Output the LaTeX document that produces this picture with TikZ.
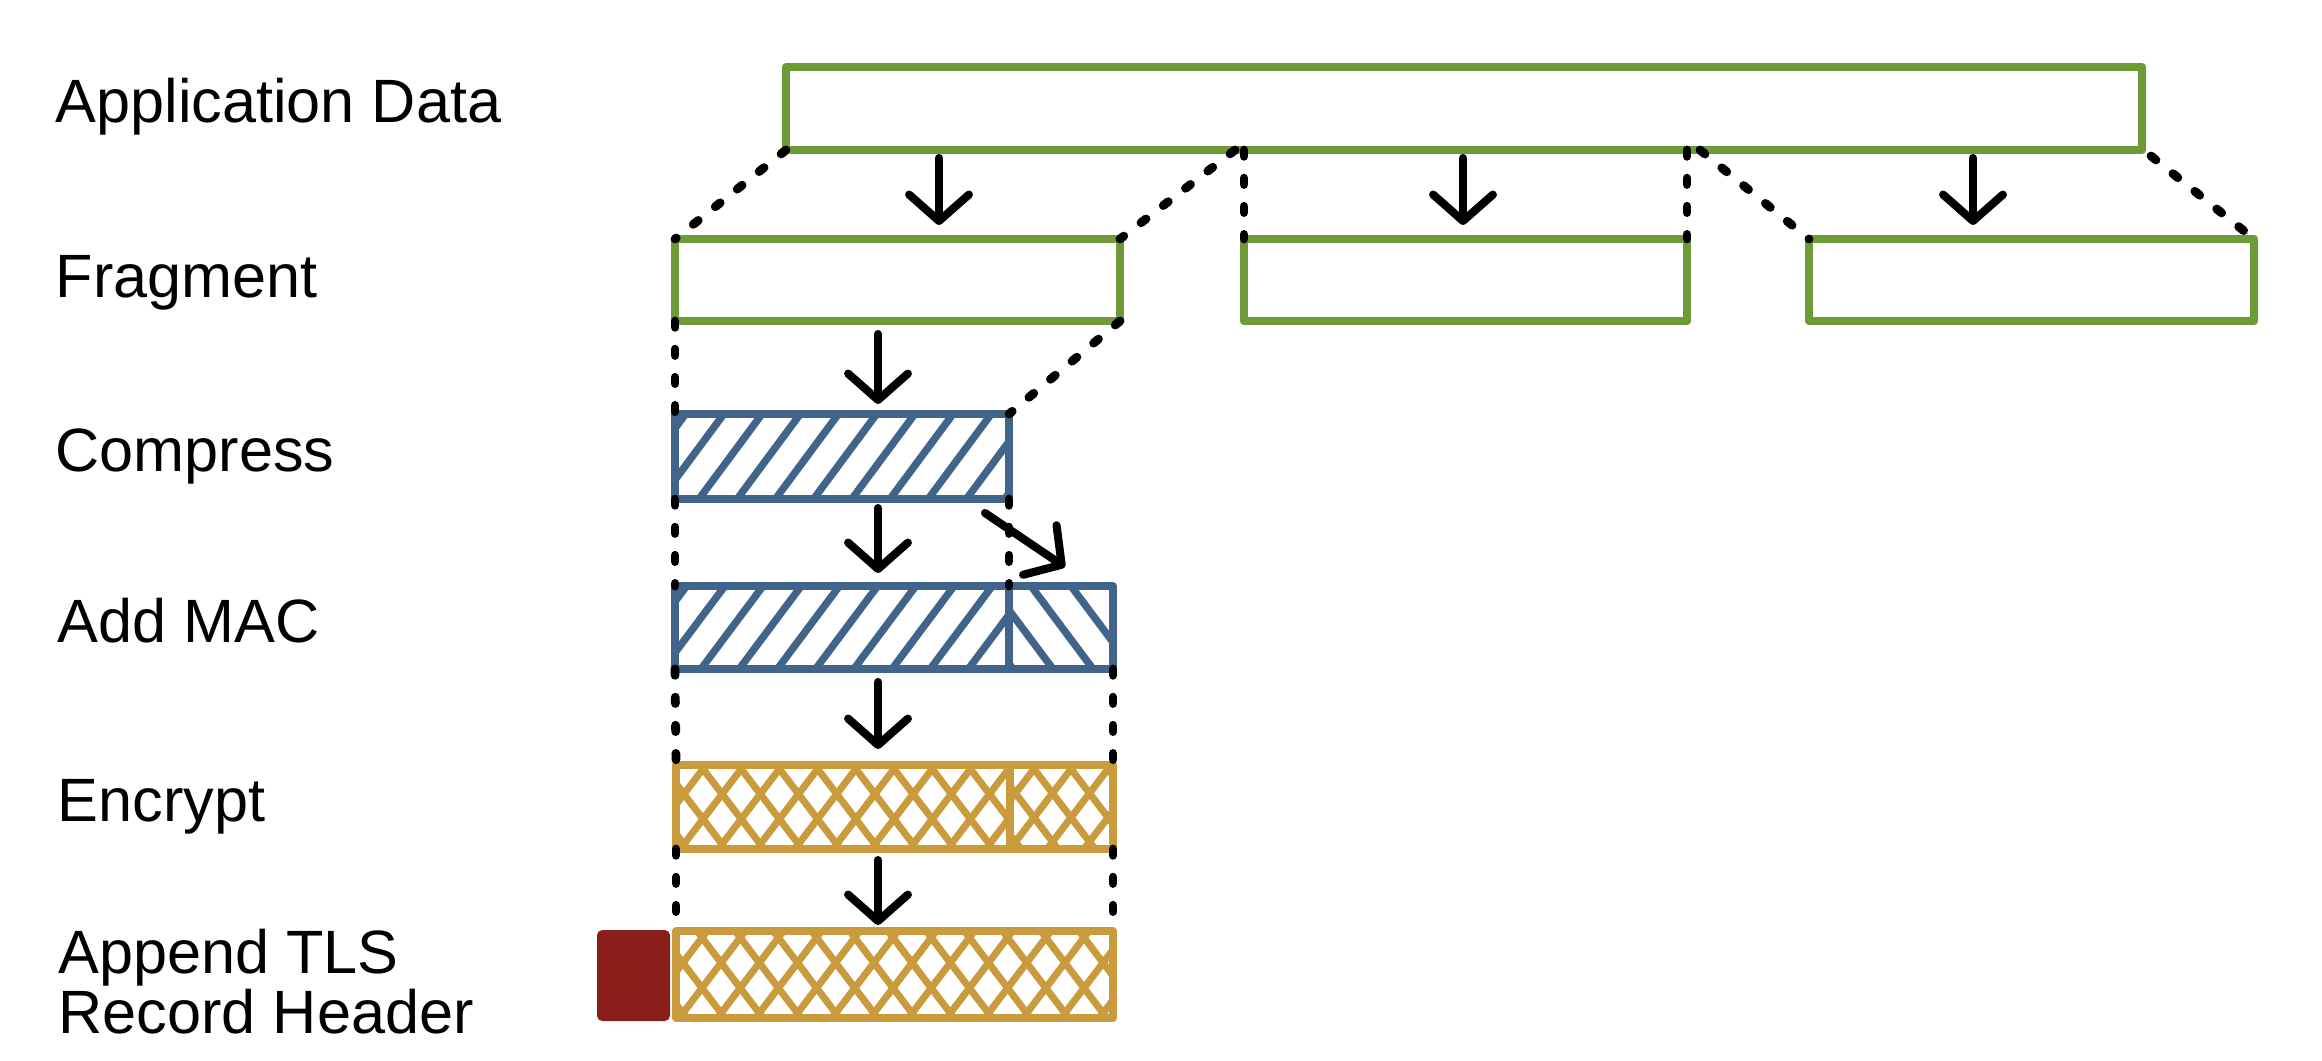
\documentclass[tikz,border=0pt]{standalone}
\usepackage{fontspec}
\setmainfont{Liberation Sans}
\usetikzlibrary{arrows.meta}
\definecolor{grn}{HTML}{6F9A38}
\definecolor{blu}{HTML}{41648A}
\definecolor{gld}{HTML}{C99B3D}
\definecolor{hdr}{HTML}{8A1F1A}
\tikzset{
  box/.style={inner sep=0pt, outer sep=0pt, line join=round},
  gbox/.style={box, draw=grn, line width=2.5pt},
  bbox/.style={box, draw=blu, line width=2.2pt},
  ybox/.style={box, draw=gld, line width=2.3pt},
  hbox/.style={box, fill=hdr, rounded corners=1.5pt},
  bline/.style={draw=blu, line width=2.1pt},
  yline/.style={draw=gld, line width=2pt},
  arr/.style={draw=black, line width=2.3pt, line cap=round, -{Straight Barb[length=7.5pt,width=17pt,round]}},
  dots/.style={draw=black, line width=2.5pt, line cap=round, dash pattern=on 1.8pt off 6.2pt},
  lbl/.style={anchor=base west, inner sep=0pt, font=\fontsize{17.4pt}{16.8pt}\selectfont, align=left},
}
% box node from corners (x1,y1) to (x2,y2), y grows downward
\newcommand\bx[6]{\node[#1, minimum width={(#5-#3)*0.01cm}, minimum height={(#6-#4)*0.01cm}] (#2) at ({(#3+#5)/2},{(#4+#6)/2}) {};}
% clipped hatch lines: x1 y1 x2 y2 phase(bottom x) dx(top-bottom) spacing style
\newcommand\hatch[8]{%
  \begin{scope}
    \clip (#1,#2) rectangle (#3,#4);
    \foreach \k in {-5,...,16}{
      \draw[#8] ({#5+\k*#7},#4) -- ({#5+\k*#7+#6},#2);
    }
  \end{scope}}
\begin{document}
\begin{tikzpicture}[x=0.01cm, y=-0.01cm]
  \useasboundingbox (0,0) rectangle (2322,1060);
  \fill[white] (0,0) rectangle (2322,1060);

  % labels
  \node[lbl] (lapp)  at (55,122) {Application Data};
  \node[lbl] (lfrag) at (55,297) {Fragment};
  \node[lbl] (lcomp) at (55,471) {Compress};
  \node[lbl] (lmac)  at (57,642) {Add MAC};
  \node[lbl] (lenc)  at (57,821) {Encrypt};
  \node[lbl] (lhdr)  at (58,1033) {Append TLS\\Record Header};

  % green boxes
  \bx{gbox}{app}{786}{67}{2142}{150}
  \bx{gbox}{frag1}{675}{239}{1120}{321}
  \bx{gbox}{frag2}{1244}{239}{1687}{321}
  \bx{gbox}{frag3}{1809}{239}{2254}{321}

  % compress
  \hatch{675}{414}{1009}{499}{699}{63}{38.2}{bline}
  \bx{bbox}{comp}{675}{414}{1009}{499}

  % add MAC
  \hatch{675}{586}{1009}{669}{701}{62}{38.2}{bline}
  \hatch{1009}{586}{1113}{669}{1013}{-62}{40}{bline}
  \bx{bbox}{macL}{675}{586}{1009}{669}
  \bx{bbox}{macR}{1009}{586}{1113}{669}

  % encrypt
  \hatch{676}{765}{1010}{849}{642}{64}{38.2}{yline}
  \hatch{676}{765}{1010}{849}{764}{-64}{38.2}{yline}
  \hatch{1010}{765}{1113}{849}{973}{64}{37}{yline}
  \hatch{1010}{765}{1113}{849}{1095}{-64}{37}{yline}
  \bx{ybox}{encL}{676}{765}{1010}{849}
  \bx{ybox}{encR}{1010}{765}{1113}{849}

  % append header
  \hatch{676}{931}{1113}{1018}{641}{66}{38.2}{yline}
  \hatch{676}{931}{1113}{1018}{763}{-66}{38.2}{yline}
  \bx{ybox}{rec}{676}{931}{1113}{1018}
  \bx{hbox}{hdr}{597}{930}{670}{1021}

  % dotted guides
  \coordinate (s2) at (1235,150);
  \coordinate (s5) at (1700,150);
  \coordinate (s6) at (2151,156);
  \draw[dots] (app.south west) -- (frag1.north west);
  \draw[dots] (s2) -- (frag1.north east);
  \draw[dots] (frag2.north west |- app.south) -- (frag2.north west);
  \draw[dots] (frag2.north east |- app.south) -- (frag2.north east);
  \draw[dots] (s5) -- (frag3.north west);
  \draw[dots] (s6) -- (frag3.north east);
  \draw[dots] (frag1.south west) -- (comp.north west);
  \draw[dots] (frag1.south east) -- (comp.north east);
  \draw[dots] (comp.south west) -- (macL.north west);
  \draw[dots] (comp.south east) -- (macL.north east);
  \draw[dots] (macL.south west) -- (encL.north west);
  \draw[dots] (macR.south east) -- (encR.north east);
  \draw[dots] (encL.south west) -- (rec.north west);
  \draw[dots] (encR.south east) -- (rec.north east);

  % arrows
  \coordinate (a1s) at (939,158);  \coordinate (a1e) at (939,225);
  \coordinate (a2s) at (1463,158); \coordinate (a2e) at (1463,225);
  \coordinate (a3s) at (1973,158); \coordinate (a3e) at (1973,225);
  \coordinate (a4s) at (878,334);  \coordinate (a4e) at (878,404);
  \coordinate (a5s) at (878,508);  \coordinate (a5e) at (878,573);
  \coordinate (a6s) at (985,513);  \coordinate (a6e) at (1065,567);
  \coordinate (a7s) at (878,682);  \coordinate (a7e) at (878,749);
  \coordinate (a8s) at (878,860);  \coordinate (a8e) at (878,925);
  \draw[arr] (a1s) -- (a1e);
  \draw[arr] (a2s) -- (a2e);
  \draw[arr] (a3s) -- (a3e);
  \draw[arr] (a4s) -- (a4e);
  \draw[arr] (a5s) -- (a5e);
  \draw[arr] (a6s) -- (a6e);
  \draw[arr] (a7s) -- (a7e);
  \draw[arr] (a8s) -- (a8e);
\end{tikzpicture}
\end{document}
